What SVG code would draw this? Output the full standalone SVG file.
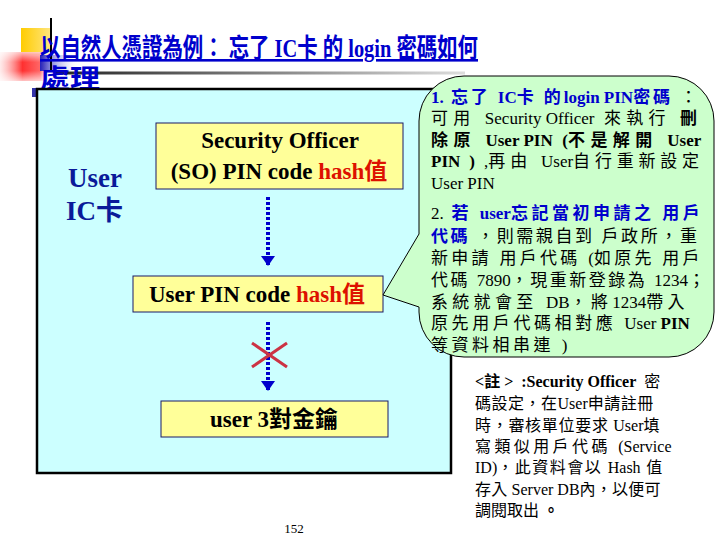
<svg xmlns="http://www.w3.org/2000/svg" width="720" height="540" viewBox="0 0 720 540">
<style>
text{font-family:"Liberation Serif","Noto Sans CJK TC",serif;}
.title{font-size:26px;font-weight:bold;fill:#0000CC;text-decoration:underline;}
.box{fill:#FFFF99;stroke:#1A1A66;stroke-width:1;}
.bt{font-size:23px;font-weight:bold;fill:#000000;}
.red{fill:#DD1100;}
.ct{font-size:17px;fill:#000000;}
.nt{font-size:16px;fill:#000000;}
.b{font-weight:bold;}
.blue{fill:#0000CC;font-weight:bold;}
.lat{letter-spacing:0;}
.dot{stroke:#0000CC;stroke-width:4;stroke-dasharray:3 2;fill:none;}
</style>
<defs>
<marker id="ah" markerUnits="userSpaceOnUse" markerWidth="12" markerHeight="16" refX="10" refY="8" orient="auto">
<path d="M0,1 L10,8 L0,15 Z" fill="#0000CC"/>
</marker>
<linearGradient id="gline" x1="0" y1="0" x2="1" y2="0">
<stop offset="0" stop-color="#222222"/>
<stop offset="1" stop-color="#DDDDDD"/>
</linearGradient>
<linearGradient id="gyel" x1="0" y1="0" x2="1" y2="0">
<stop offset="0" stop-color="#FFCC00"/>
<stop offset="1" stop-color="#FFE680"/>
</linearGradient>
<linearGradient id="gred" x1="0" y1="0" x2="1" y2="0">
<stop offset="0" stop-color="#FFD8D8" stop-opacity="0.5"/>
<stop offset="0.45" stop-color="#FF3030"/>
<stop offset="0.8" stop-color="#FF4040" stop-opacity="0.8"/>
<stop offset="1" stop-color="#FFFFFF" stop-opacity="0"/>
</linearGradient>
<linearGradient id="gredv" x1="0" y1="0" x2="0" y2="1">
<stop offset="0" stop-color="#FFFFFF" stop-opacity="0.7"/>
<stop offset="0.35" stop-color="#FFFFFF" stop-opacity="0"/>
<stop offset="0.65" stop-color="#FFFFFF" stop-opacity="0"/>
<stop offset="1" stop-color="#FFFFFF" stop-opacity="0.7"/>
</linearGradient>
<linearGradient id="gblue" x1="0" y1="0" x2="1" y2="0">
<stop offset="0" stop-color="#2222BB"/>
<stop offset="1" stop-color="#FFFFFF" stop-opacity="0"/>
</linearGradient>
</defs>
<rect width="720" height="540" fill="#FFFFFF"/>

<g id="decor">
<rect x="21" y="28" width="30" height="27" fill="url(#gyel)"/>
<rect x="0" y="52" width="50" height="29" fill="url(#gred)"/>
<rect x="0" y="52" width="50" height="29" fill="url(#gredv)"/>
<rect x="40" y="55" width="40" height="16" fill="url(#gblue)"/>
<rect x="55" y="71.5" width="410" height="3" fill="url(#gline)"/>
<line x1="51" y1="18" x2="51" y2="70" stroke="#000000" stroke-width="2"/>
<rect x="32" y="88" width="6" height="9" fill="#3333AA"/>
</g>

<g id="title">
<text class="title" x="40" y="57" textLength="438" lengthAdjust="spacingAndGlyphs">以自然人憑證為例：  忘了 IC卡 的 login 密碼如何</text>
<text class="title" x="40" y="88" textLength="60" lengthAdjust="spacingAndGlyphs">處理</text>
</g>

<g id="card">
<rect x="37" y="89" width="414" height="384" fill="#CCFFFF" stroke="#000000" stroke-width="2.5"/>
<text x="68" y="187" font-size="27" font-weight="bold" fill="#0A1A99">User</text>
<text x="66" y="220" font-size="27" font-weight="bold" fill="#0A1A99">IC卡</text>
</g>

<g id="connectors">
<line class="dot" x1="268" y1="197" x2="268" y2="266" marker-end="url(#ah)"/>
<line class="dot" x1="268" y1="322" x2="268" y2="391" marker-end="url(#ah)"/>
<line x1="252" y1="343" x2="287" y2="367" stroke="#CC3344" stroke-width="3"/>
<line x1="252" y1="367" x2="287" y2="343" stroke="#CC3344" stroke-width="3"/>
</g>

<g id="so-pin">
<rect class="box" x="156" y="123" width="247" height="66"/>
<text class="bt" x="280" y="148" text-anchor="middle">Security Officer</text>
<text class="bt" x="279" y="179" text-anchor="middle">(SO) PIN code <tspan class="red">hash值</tspan></text>
</g>

<g id="user-pin">
<rect class="box" x="133" y="276" width="250" height="36"/>
<text class="bt" x="257" y="302" text-anchor="middle">User PIN code <tspan class="red">hash值</tspan></text>
</g>

<g id="user-keys">
<rect class="box" x="161" y="401" width="227" height="36"/>
<text class="bt" x="274" y="427" text-anchor="middle">user 3對金鑰</text>
</g>

<g id="callout">
<path d="M464,76 H669 A45,45 0 0 1 714,121 V312 A45,45 0 0 1 669,357 H464 A45,45 0 0 1 419,312 V307 L383,295 L419,234 V121 A45,45 0 0 1 464,76 Z" fill="#CCFFCC" stroke="#000000" stroke-width="1"/>
<text class="ct" x="431" y="103" letter-spacing="2.9"><tspan class="blue"><tspan class="lat">1.</tspan> 忘了 <tspan class="lat">IC</tspan>卡 的<tspan class="lat">login PIN</tspan>密碼</tspan> ：</text>
<text class="ct" x="431" y="124" letter-spacing="5.2">可用 <tspan class="lat">Security Officer</tspan> 來執行 <tspan class="b">刪</tspan></text>
<text class="ct b" x="431" y="146" letter-spacing="5.4">除原 <tspan class="lat">User PIN</tspan> <tspan class="lat">(</tspan>不是解開 <tspan class="lat">User</tspan></text>
<text class="ct" x="431" y="167" letter-spacing="4.8"><tspan class="b"><tspan class="lat">PIN</tspan> <tspan class="lat">)</tspan></tspan> <tspan class="lat">,</tspan>再由 <tspan class="lat">User</tspan>自行重新設定</text>
<text class="ct" x="431" y="189">User PIN</text>
<text class="ct" x="431" y="219" letter-spacing="3.5"><tspan class="lat">2.</tspan> <tspan class="blue">若 <tspan class="lat">user</tspan>忘記當初申請之 用戶</tspan></text>
<text class="ct" x="431" y="242" letter-spacing="2.6"><tspan class="blue">代碼</tspan> ，則需親自到 戶政所，重</text>
<text class="ct" x="431" y="264" letter-spacing="3.3">新申請 用戶代碼 <tspan class="lat">(</tspan>如原先 用戶</text>
<text class="ct" x="431" y="286" letter-spacing="2.5">代碼 <tspan class="lat">7890</tspan>，現重新登錄為 <tspan class="lat">1234</tspan>；</text>
<text class="ct" x="431" y="308" letter-spacing="4.3">系統就會至 <tspan class="lat">DB</tspan>，將<tspan class="lat">1234</tspan>帶入</text>
<text class="ct" x="431" y="329" letter-spacing="3.6">原先用戶代碼相對應  <tspan class="lat">User <tspan class="b">PIN</tspan></tspan></text>
<text class="ct" x="431" y="351" letter-spacing="3.5">等資料相串連 <tspan class="lat">)</tspan></text>
</g>

<g id="note">
<text class="nt" x="475" y="387" letter-spacing="4"><tspan class="b"><tspan class="lat">&lt;</tspan>註<tspan class="lat">&gt;</tspan> <tspan class="lat">:Security Officer</tspan></tspan>  密</text>
<text class="nt" x="475" y="409" letter-spacing="0.5">碼設定，在<tspan class="lat">User</tspan>申請註冊</text>
<text class="nt" x="475" y="431" letter-spacing="0.7">時，審核單位要求 <tspan class="lat">User</tspan>填</text>
<text class="nt" x="475" y="452" letter-spacing="3.4">寫類似用戶代碼 <tspan class="lat">(Service</tspan></text>
<text class="nt" x="475" y="473" letter-spacing="1.5"><tspan class="lat">ID)</tspan>，此資料會以 <tspan class="lat">Hash</tspan> 值</text>
<text class="nt" x="475" y="495" letter-spacing="0.2">存入 <tspan class="lat">Server DB</tspan>內，以便可</text>
<text class="nt" x="475" y="516">調閱取出 <tspan class="b">。</tspan></text>
</g>

<g id="page">
<text x="294" y="533" font-size="13" text-anchor="middle" fill="#000000">152</text>
</g>
</svg>
